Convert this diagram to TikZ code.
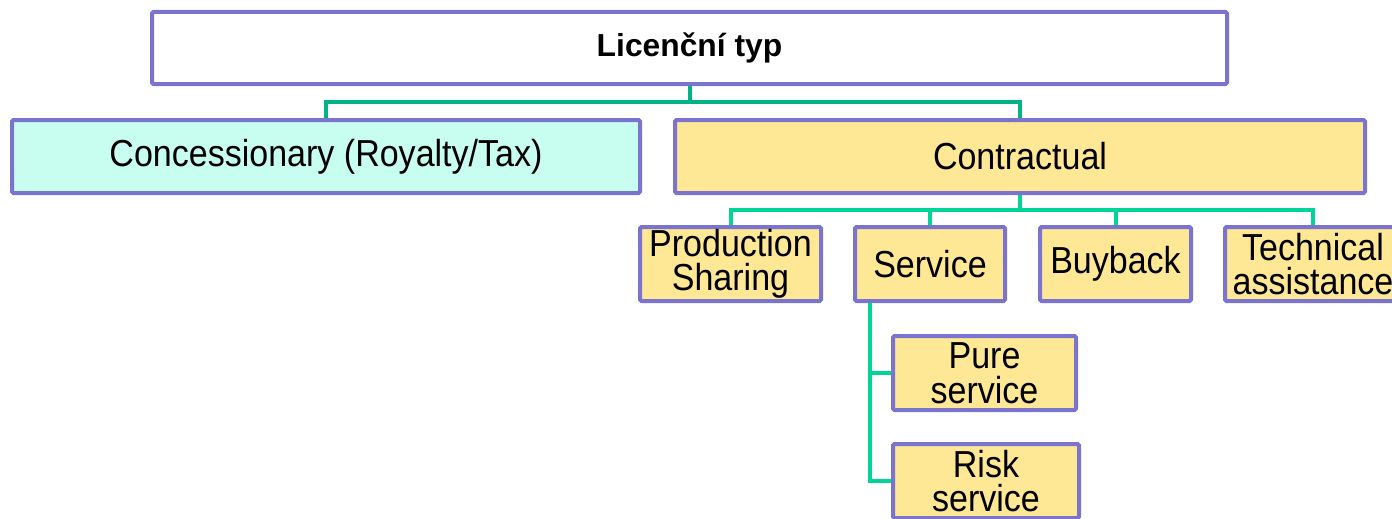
\documentclass[tikz,border=0pt]{standalone}
\usepackage{fontspec}
\setmainfont{Liberation Sans}
\newfontfamily\narrowfont[FakeStretch=0.905]{Liberation Sans}
\definecolor{bord}{HTML}{7B74CF}
\definecolor{connA}{HTML}{00B386}
\definecolor{connB}{HTML}{00D496}
\definecolor{cyanfill}{HTML}{C7FEEF}
\definecolor{yelfill}{HTML}{FEE795}
\begin{document}
\begin{tikzpicture}[x=1pt,y=-1pt,
  box/.style={draw=bord, line width=4pt, rounded corners=1.5pt, inner sep=0pt, align=center,
    font=\narrowfont\fontsize{37.6}{34.5}\selectfont},
  conn/.style={line width=4pt},
]
\useasboundingbox (0,0) rectangle (1392,519);
\node[box, fill=white, minimum width=1075pt, minimum height=72pt, font=\fontsize{31.8}{32}\selectfont\bfseries] (top) at (689.5,48) {Licenční typ};
\node[box, fill=cyanfill, minimum width=628pt, minimum height=73pt] (conc) at (326,156.5) {Concessionary (Royalty/Tax)};
\node[box, fill=yelfill, minimum width=690pt, minimum height=73pt] (contr) at (1020,156.5) {Contractual};
\node[box, fill=yelfill, minimum width=181pt, minimum height=74pt] (prod) at (730.5,264) {Production\\Sharing};
\node[box, fill=yelfill, minimum width=150pt, minimum height=74pt] (serv) at (930,264) {Service};
\node[box, fill=yelfill, minimum width=151pt, minimum height=74pt] (buy) at (1115.5,264) {Buyback};
\node[box, fill=yelfill, minimum width=176pt, minimum height=74pt] (tech) at (1313,264) {Technical\\assistance};
\node[box, fill=yelfill, minimum width=183pt, minimum height=74pt] (pure) at (984.5,373) {Pure\\service};
\node[box, fill=yelfill, minimum width=186pt, minimum height=74pt] (risk) at (986,481) {Risk\\service};
% level 1 connectors
\coordinate (j1) at (689.5,102);
\draw[conn, connA] (top.south) -- (j1);
\draw[conn, connA] (conc.north) |- (j1) -| (contr.north);
% level 2 connectors
\coordinate (j2) at (1020,210);
\draw[conn, connB] (contr.south) -- (j2);
\draw[conn, connB] (prod.north) |- (j2) -| (tech.north);
\draw[conn, connB] (serv.north) -- (serv.north |- j2);
\draw[conn, connB] (buy.north) -- (buy.north |- j2);
% level 3 connectors
\coordinate (j3) at (870,303);
\draw[conn, connB] (j3) |- (risk.west);
\draw[conn, connB] (j3 |- pure.west) -- (pure.west);
\end{tikzpicture}
\end{document}
